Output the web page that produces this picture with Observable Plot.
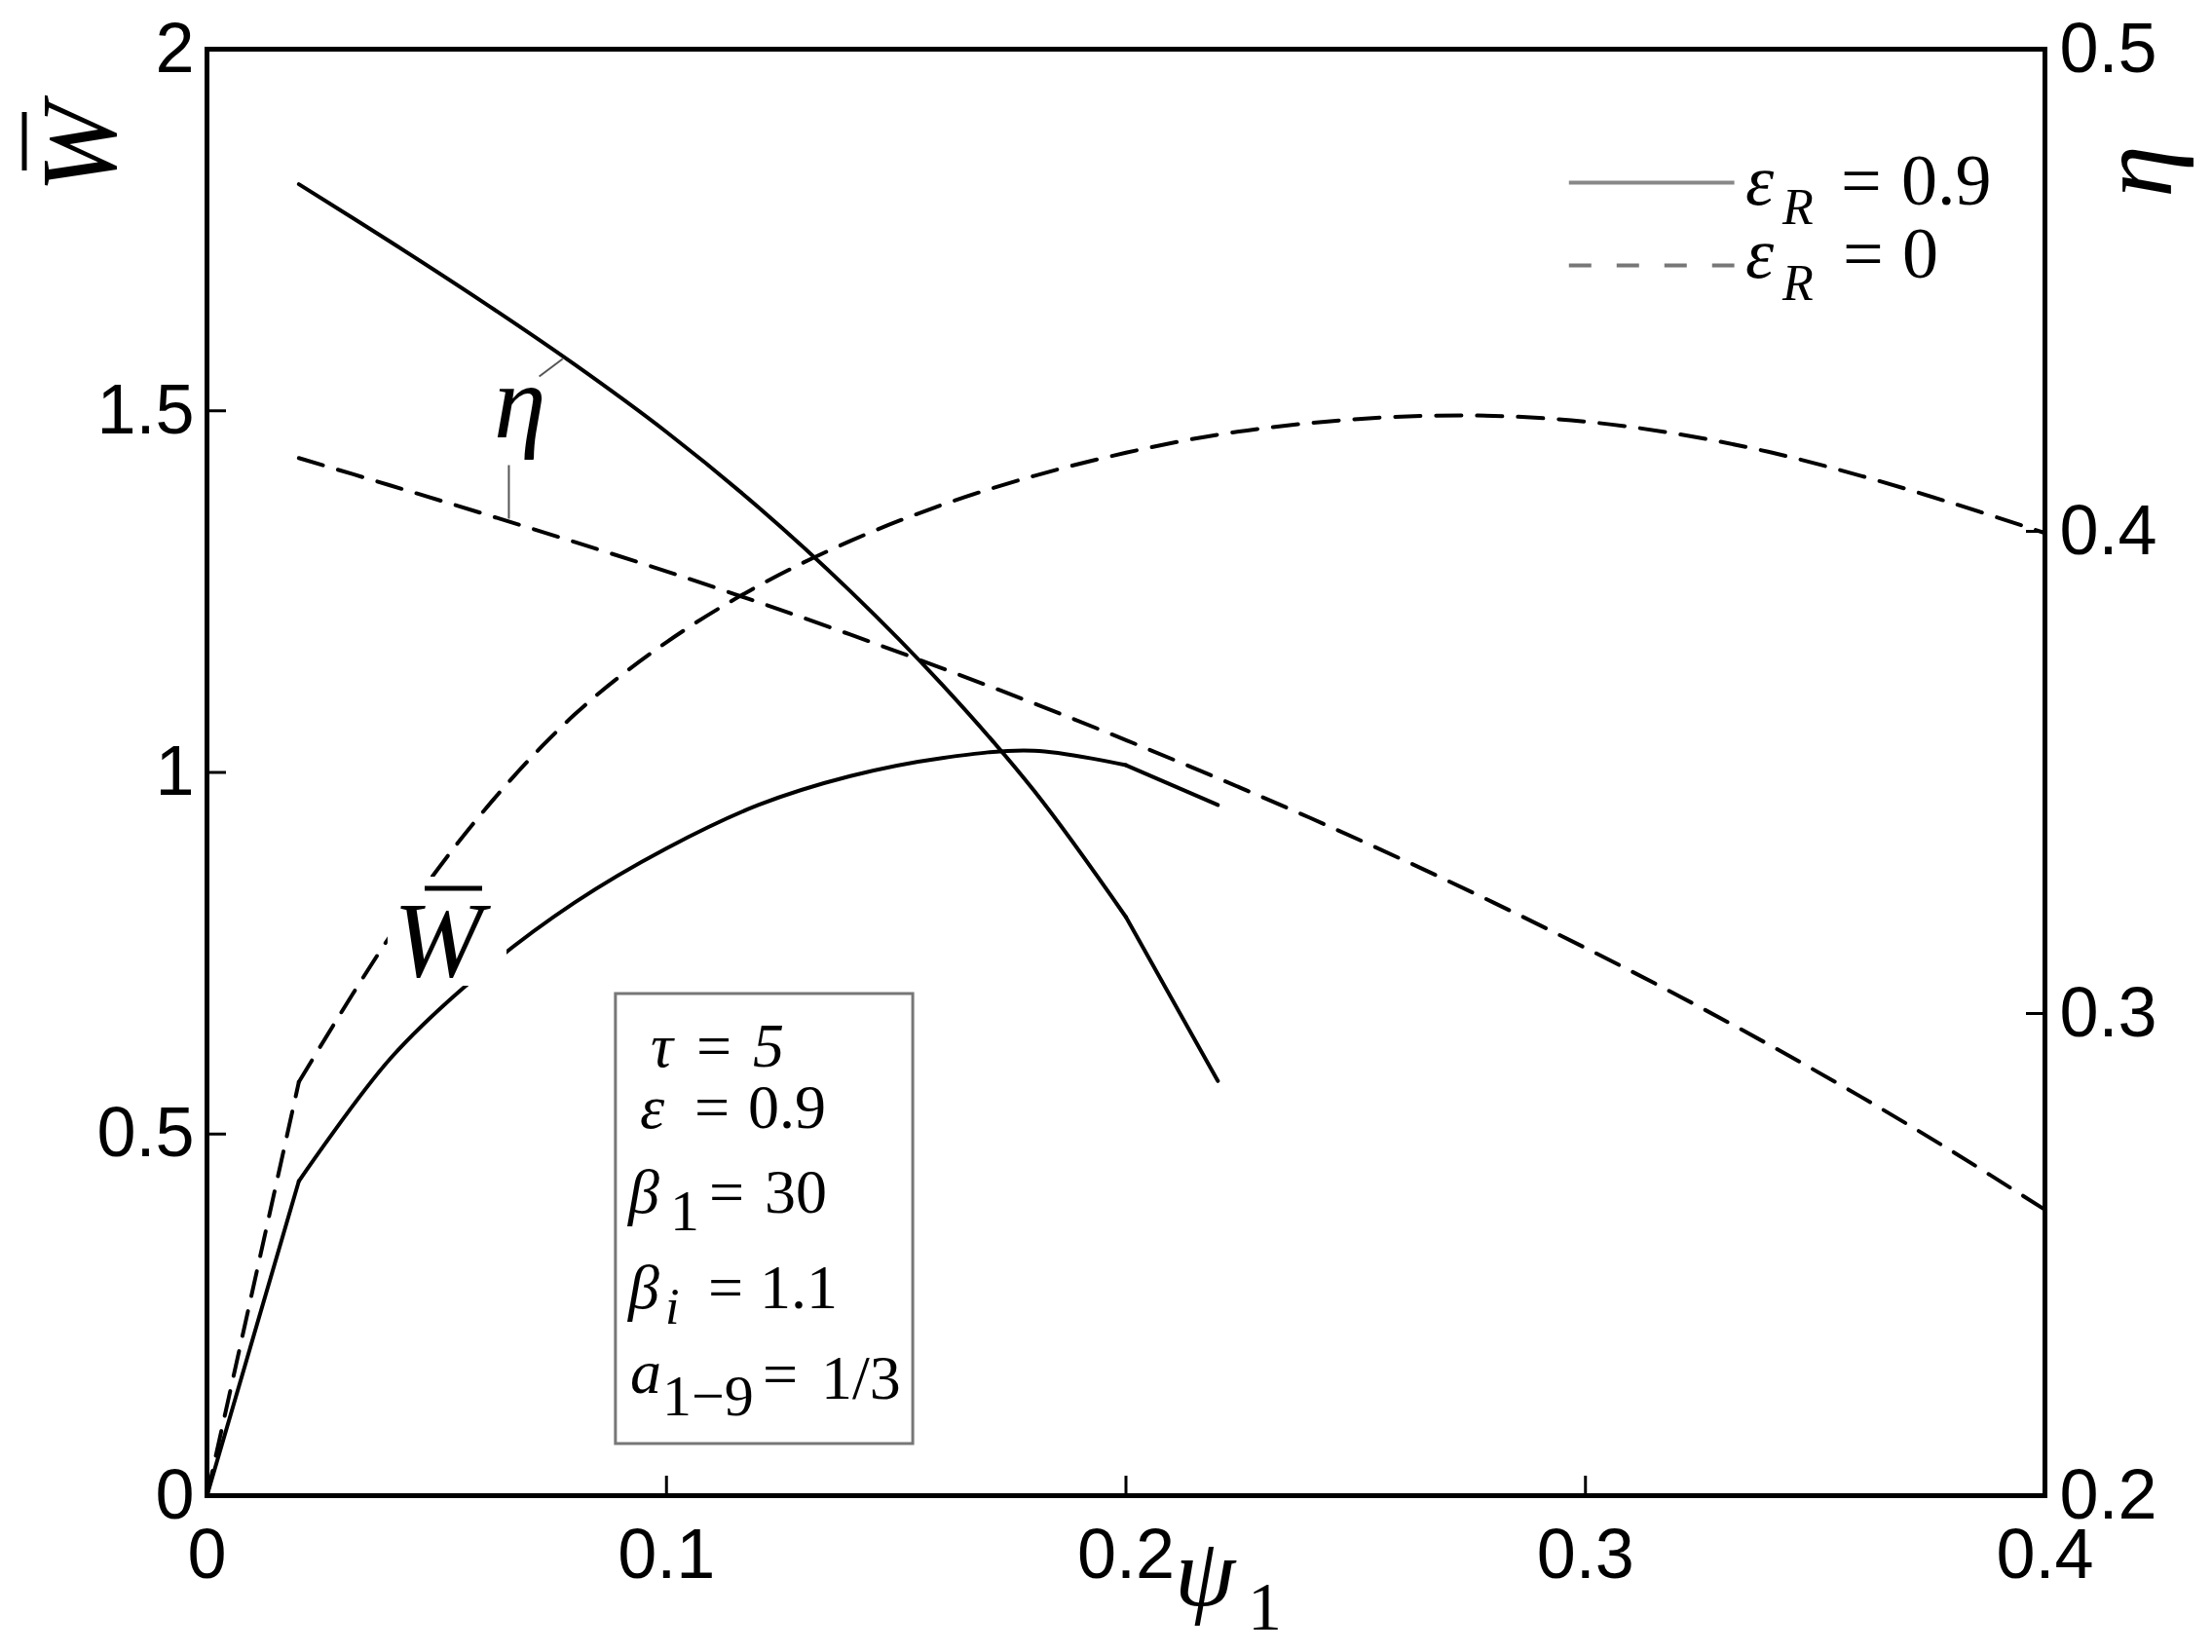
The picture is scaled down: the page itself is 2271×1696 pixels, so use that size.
<!DOCTYPE html>
<html>
<head>
<meta charset="utf-8">
<script src="https://cdn.jsdelivr.net/npm/d3@7"></script>
<script src="https://cdn.jsdelivr.net/npm/@observablehq/plot@0.6"></script>
<style>
  html, body { margin: 0; padding: 0; background: #fff; overflow: hidden; }
  svg { display: block; }
</style>
</head>
<body>
<div id="chart"></div>
<script>
// ---- data ----
const psi = [0, 0.02, 0.04, 0.06, 0.08, 0.10, 0.12, 0.14, 0.16, 0.18, 0.20,
             0.22, 0.24, 0.26, 0.28, 0.30, 0.32, 0.34, 0.36, 0.38, 0.40];
// W-bar, eps_R = 0.9 (solid), psi = 0 .. 0.22
const W_eR09 = [0, 0.435, 0.605, 0.725, 0.82, 0.895, 0.955, 0.995, 1.02, 1.03, 1.01, 0.955];
// W-bar, eps_R = 0 (dashed), psi = 0 .. 0.40
const W_eR0 = [0, 0.572, 0.775, 0.945, 1.08, 1.18, 1.258, 1.32, 1.37, 1.41, 1.442,
               1.467, 1.483, 1.492, 1.493, 1.485, 1.468, 1.443, 1.41, 1.372, 1.331];
// eta, eps_R = 0.9 (solid), psi = 0.02 .. 0.22
const eta_eR09 = [0.472, 0.460, 0.4476, 0.4346, 0.4206, 0.405, 0.3876, 0.3682, 0.3462, 0.320, 0.286];
// eta, eps_R = 0 (dashed), psi = 0.02 .. 0.40
const eta_eR0 = [0.4152, 0.4095, 0.4037, 0.3978, 0.3917, 0.3853, 0.3786, 0.3716, 0.3643, 0.3567,
                 0.3488, 0.3406, 0.332, 0.323, 0.3136, 0.3038, 0.2935, 0.2827, 0.2713, 0.2593];

const xTicks = [0, 0.1, 0.2, 0.3, 0.4];
const wTicks = [0, 0.5, 1, 1.5, 2];
const etaTicks = [0.2, 0.3, 0.4, 0.5];

// right axis (eta 0.2..0.5) mapped onto the left W scale (0..2)
const etaToW = e => (e - 0.2) / 0.3 * 2;
const wToEta = w => 0.2 + w * 0.3 / 2;

const solidW = W_eR09.map((v, i) => ({psi: psi[i], v}));
const dashedW = W_eR0.map((v, i) => ({psi: psi[i], v}));
const solidEta = eta_eR09.map((e, i) => ({psi: psi[i + 1], v: etaToW(e)}));
const dashedEta = eta_eR0.map((e, i) => ({psi: psi[i + 1], v: etaToW(e)}));

// ---- annotation layout (data units) ----
const paramBox = [{x1: 0.089, x2: 0.1537, y1: 0.0714, y2: 0.6936}];
const wLabelMask = [{x1: 0.0394, x2: 0.0653, y1: 0.7044, y2: 0.8552}];
const leaders = [
  {x1: 0.0723, y1: 1.5475, x2: 0.0774, y2: 1.5717},
  {x1: 0.0657, y1: 1.4249, x2: 0.0657, y2: 1.3508}
];
const legendSolid = [{x1: 0.2964, x2: 0.3324, y: 1.8155}];
const legendDashed = [{x1: 0.2964, x2: 0.3324, y: 1.7010}];

const LW = 4;
const DASH = "26,16";
const axisFont = {fontSize: 72, fontFamily: "Liberation Sans"};
const line = (data, opts = {}) => Plot.line(data, {x: "psi", y: "v", stroke: "black", strokeWidth: LW, strokeLinejoin: "round", ...opts});

const plot = Plot.plot({
  width: 2271,
  height: 1696,
  marginLeft: 212,
  marginRight: 172,
  marginTop: 50,
  marginBottom: 161,
  style: {fontFamily: "Liberation Sans", background: "white", color: "black"},
  x: {domain: [0, 0.4]},
  y: {domain: [0, 2]},
  marks: [
    // eps_R = 0 (dashed)
    line(dashedW.slice(0, 2), {strokeDasharray: DASH}),
    line(dashedW.slice(1), {strokeDasharray: DASH, curve: "catmull-rom"}),
    line(dashedEta, {strokeDasharray: DASH, curve: "catmull-rom"}),
    // eps_R = 0.9 (solid)
    line(solidW.slice(0, 2)),
    line(solidW.slice(1, 11), {curve: "catmull-rom"}),
    line(solidW.slice(10)),
    line(solidEta.slice(0, 10), {curve: "catmull-rom"}),
    line(solidEta.slice(9)),
    Plot.rect(wLabelMask, {x1: "x1", x2: "x2", y1: "y1", y2: "y2", fill: "white"}),
    Plot.rect(paramBox, {x1: "x1", x2: "x2", y1: "y1", y2: "y2", fill: "white", stroke: "#777", strokeWidth: 3}),
    Plot.link(leaders, {x1: "x1", y1: "y1", x2: "x2", y2: "y2", stroke: "#555", strokeWidth: 2}),
    Plot.link(legendSolid, {x1: "x1", x2: "x2", y1: "y", y2: "y", stroke: "#888", strokeWidth: 4}),
    Plot.link(legendDashed, {x1: "x1", x2: "x2", y1: "y", y2: "y", stroke: "#777", strokeWidth: 4, strokeDasharray: "23,26"}),
    Plot.axisX(xTicks, {anchor: "bottom", tickSize: -20, tickPadding: 53, strokeWidth: 3,
      tickFormat: d => String(d), label: null, ...axisFont}),
    Plot.axisY(wTicks, {anchor: "left", tickSize: -20, tickPadding: 33, strokeWidth: 3,
      tickFormat: d => String(d), label: null, ...axisFont}),
    Plot.axisY(etaTicks.map(etaToW), {anchor: "right", tickSize: -20, tickPadding: 35, strokeWidth: 3,
      tickFormat: w => wToEta(w).toFixed(1), label: null, ...axisFont}),
    Plot.frame({stroke: "black", strokeWidth: 5})
  ]
});

document.getElementById("chart").appendChild(plot);

// ---- rich (math) text annotations ----
const svg = d3.select(plot);
function rich(x, y, parts, opts = {}) {
  const g = svg.append("g")
    .attr("transform", `translate(${x},${y})` + (opts.rotate ? ` rotate(${opts.rotate})` : ""));
  const t = g.append("text")
    .attr("font-family", "Liberation Serif")
    .attr("fill", "black")
    .attr("text-anchor", opts.anchor || "start");
  for (const p of parts) {
    const s = t.append("tspan")
      .text(p.t)
      .attr("font-size", p.size)
      .attr("font-style", p.italic ? "italic" : "normal")
      .attr("y", p.y || 0);
    if (p.x != null) s.attr("x", p.x);
  }
  if (opts.bar) {
    g.append("line")
      .attr("x1", opts.bar[0]).attr("x2", opts.bar[1])
      .attr("y1", opts.bar[2]).attr("y2", opts.bar[2])
      .attr("stroke", "black").attr("stroke-width", 5);
  }
  return g;
}

// axis titles
rich(118, 152, [{t: "W", size: 110, italic: true}], {rotate: -90, anchor: "middle", bar: [-23, 37, -93]});
rich(2229, 176, [{t: "η", size: 108, italic: true}], {rotate: -90, anchor: "middle"});
rich(1206, 1648, [
  {t: "ψ", size: 100, italic: true, x: 0},
  {t: "1", size: 70, x: 75, y: 25}
]);

// curve labels
rich(507, 449, [{t: "η", size: 108, italic: true}]);
rich(404, 1002, [{t: "W", size: 110, italic: true}], {bar: [32, 91, -90]});

// legend
rich(1792, 210, [
  {t: "ε", size: 74, italic: true, x: 0},
  {t: "R", size: 52, italic: true, x: 38, y: 20},
  {t: "=", size: 74, x: 98},
  {t: "0.9", size: 74, x: 160}
]);
rich(1792, 285, [
  {t: "ε", size: 74, italic: true, x: 0},
  {t: "R", size: 52, italic: true, x: 38, y: 23},
  {t: "=", size: 74, x: 100},
  {t: "0", size: 74, x: 161}
]);

// parameter box
const BF = 64;
rich(668, 1095, [
  {t: "τ", size: BF, italic: true, x: 0},
  {t: "=", size: BF, x: 47},
  {t: "5", size: BF, italic: true, x: 105}
]);
rich(657, 1158, [
  {t: "ε", size: BF, italic: true, x: 0},
  {t: "=", size: BF, x: 56},
  {t: "0.9", size: BF, x: 111}
]);
rich(645, 1245, [
  {t: "β", size: BF, italic: true, x: 0},
  {t: "1", size: 60, x: 43, y: 18},
  {t: "=", size: BF, x: 83},
  {t: "30", size: BF, x: 140}
]);
rich(645, 1343, [
  {t: "β", size: BF, italic: true, x: 0},
  {t: "i", size: 52, italic: true, x: 38, y: 16},
  {t: "=", size: BF, x: 82},
  {t: "1.1", size: BF, x: 135}
]);
rich(645, 1430, [
  {t: "a", size: BF, italic: true, x: 2},
  {t: "1−9", size: 60, x: 35, y: 23},
  {t: "=", size: BF, x: 138, y: 2},
  {t: "1/3", size: BF, x: 198, y: 6}
]);
</script>
</body>
</html>
